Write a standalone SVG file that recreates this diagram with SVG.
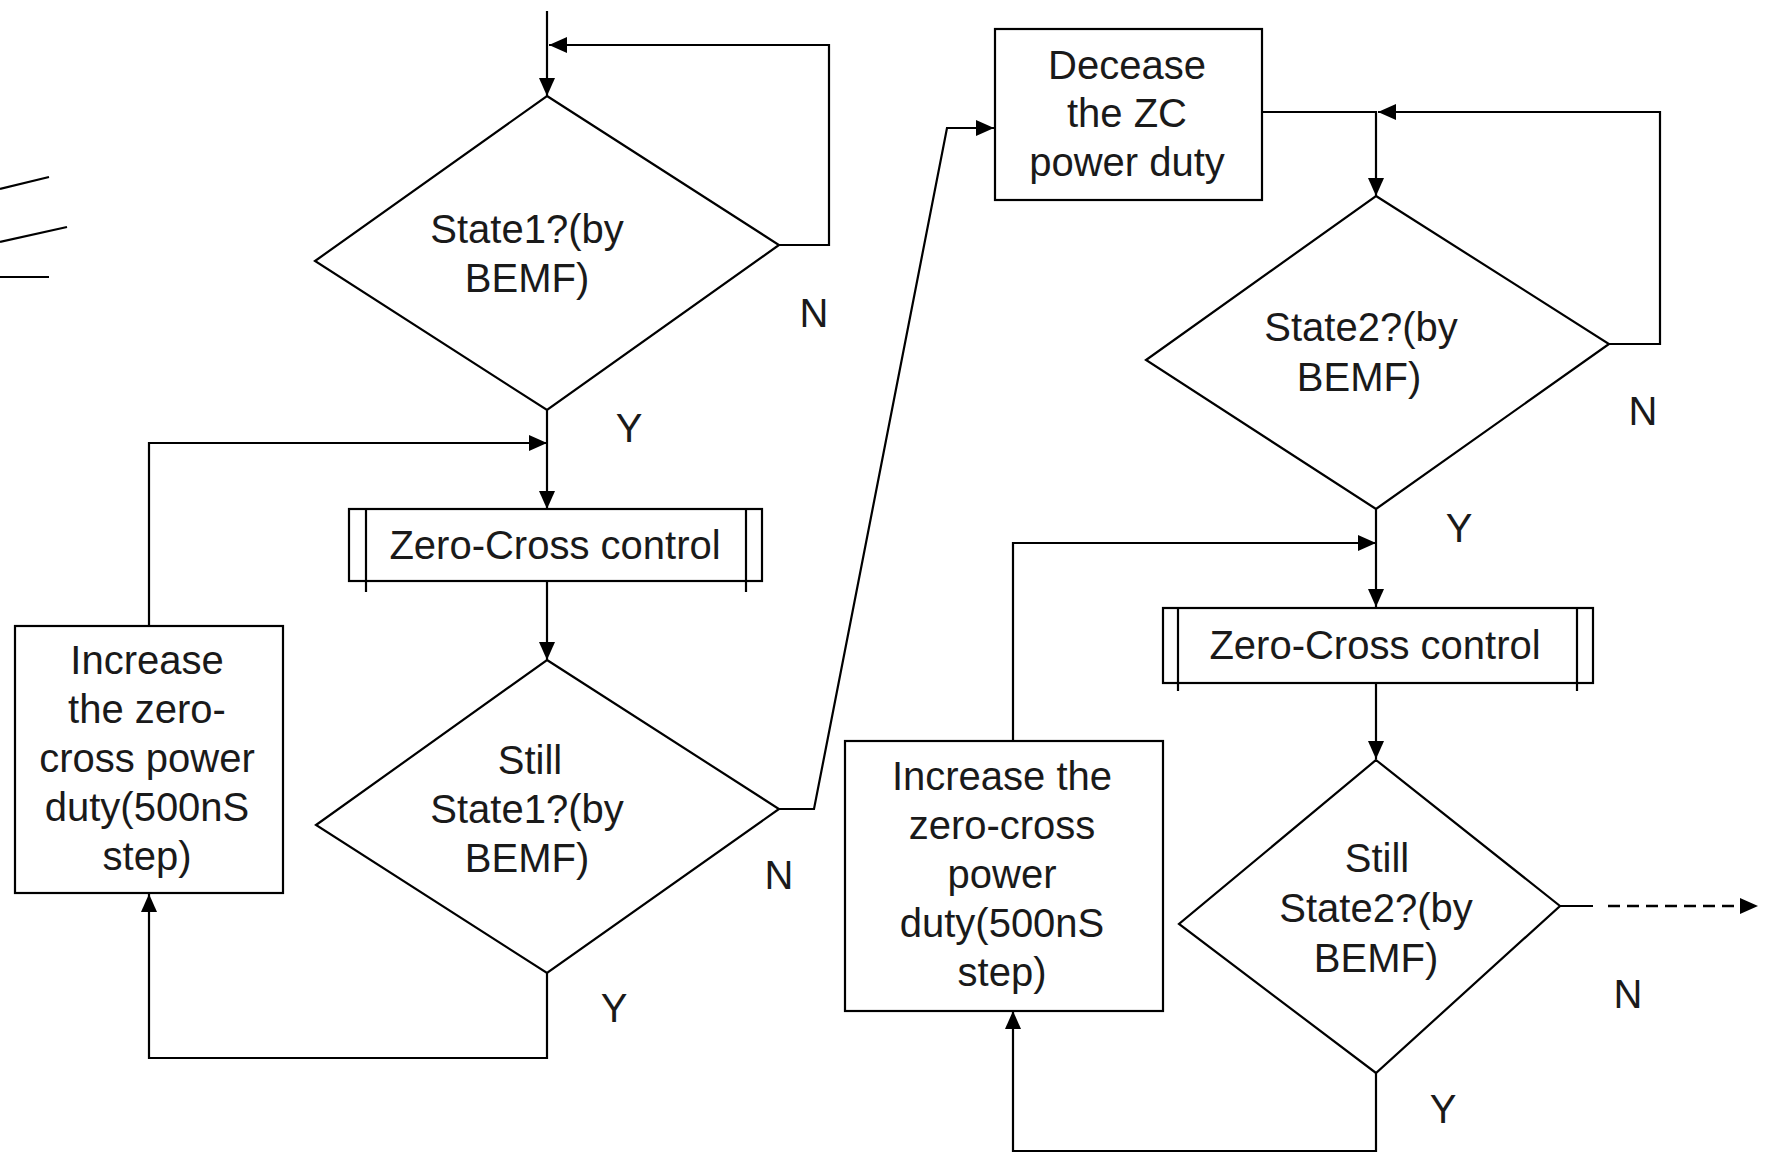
<svg xmlns="http://www.w3.org/2000/svg" width="1766" height="1156" viewBox="0 0 1766 1156">
<style>
.shape{fill:#fff;stroke:#000;stroke-width:2.2}
.ln{fill:none;stroke:#000;stroke-width:2.2}
.conn{fill:none;stroke:#000;stroke-width:2.2}
.dash{stroke-dasharray:12 7;stroke-width:2.6}
text{font-family:"Liberation Sans",Arial,sans-serif;font-size:40px;fill:#1a1a1a;text-anchor:middle}
</style>
<defs>
<marker id="arr" markerUnits="userSpaceOnUse" markerWidth="19" markerHeight="17" refX="18" refY="8" orient="auto">
<path d="M0,0 L18,8 L0,16 z" fill="#000"/>
</marker>
</defs>
<rect width="1766" height="1156" fill="#fff"/>
<g id="stray">
<line class="ln" x1="0" y1="189" x2="49" y2="177"/>
<line class="ln" x1="0" y1="242" x2="67" y2="227"/>
<line class="ln" x1="0" y1="277" x2="49" y2="277"/>
</g>
<g id="connectors">
<path class="conn" d="M547,11 V96" marker-end="url(#arr)"/>
<path class="conn" d="M779,245 H829 V45 H549" marker-end="url(#arr)"/>
<path class="conn" d="M547,410 V509" marker-end="url(#arr)"/>
<path class="conn" d="M149,626 V443 H547" marker-end="url(#arr)"/>
<path class="conn" d="M547,581 V660" marker-end="url(#arr)"/>
<path class="conn" d="M547,973 V1058 H149 V894" marker-end="url(#arr)"/>
<path class="conn" d="M779,809 H814 L947,128 H994" marker-end="url(#arr)"/>
<path class="conn" d="M1262,112 H1376 V196" marker-end="url(#arr)"/>
<path class="conn" d="M1609,344 H1660 V112 H1378" marker-end="url(#arr)"/>
<path class="conn" d="M1376,509 V607" marker-end="url(#arr)"/>
<path class="conn" d="M1013,741 V543 H1376" marker-end="url(#arr)"/>
<path class="conn" d="M1376,683 V759" marker-end="url(#arr)"/>
<path class="conn" d="M1376,1073 V1151 H1013 V1011" marker-end="url(#arr)"/>
<path class="conn" d="M1560,906 H1593"/>
<path class="conn dash" d="M1608,906 H1758" marker-end="url(#arr)"/>
<text x="814" y="327">N</text>
<text x="629" y="442">Y</text>
<text x="779" y="889">N</text>
<text x="614" y="1022">Y</text>
<text x="1643" y="425">N</text>
<text x="1459" y="542">Y</text>
<text x="1628" y="1008">N</text>
<text x="1443" y="1123">Y</text>
</g>
<g id="state1">
<polygon class="shape" points="547,96 779,245 547,410 315,261"/>
<text x="527" y="243">State1?(by</text>
<text x="527" y="292">BEMF)</text>
</g>
<g id="zc1">
<rect class="shape" x="349" y="509" width="413" height="72"/>
<line class="ln" x1="366" y1="509" x2="366" y2="592"/>
<line class="ln" x1="746" y1="509" x2="746" y2="592"/>
<text x="555" y="559">Zero-Cross control</text>
</g>
<g id="still1">
<polygon class="shape" points="547,660 779,809 547,973 316,825"/>
<text x="530" y="774">Still</text>
<text x="527" y="823">State1?(by</text>
<text x="527" y="872">BEMF)</text>
</g>
<g id="inc1">
<rect class="shape" x="15" y="626" width="268" height="267"/>
<text x="147" y="674">Increase</text>
<text x="147" y="723">the zero-</text>
<text x="147" y="772">cross power</text>
<text x="147" y="821">duty(500nS</text>
<text x="147" y="870">step)</text>
</g>
<g id="decease">
<rect class="shape" x="995" y="29" width="267" height="171"/>
<text x="1127" y="79">Decease</text>
<text x="1127" y="127">the ZC</text>
<text x="1127" y="176">power duty</text>
</g>
<g id="state2">
<polygon class="shape" points="1376,196 1609,344 1376,509 1146,360"/>
<text x="1361" y="341">State2?(by</text>
<text x="1359" y="391">BEMF)</text>
</g>
<g id="zc2">
<rect class="shape" x="1163" y="608" width="430" height="75"/>
<line class="ln" x1="1178" y1="608" x2="1178" y2="691"/>
<line class="ln" x1="1577" y1="608" x2="1577" y2="691"/>
<text x="1375" y="659">Zero-Cross control</text>
</g>
<g id="still2">
<polygon class="shape" points="1376,760 1560,906 1376,1073 1179,924"/>
<text x="1377" y="872">Still</text>
<text x="1376" y="922">State2?(by</text>
<text x="1376" y="972">BEMF)</text>
</g>
<g id="inc2">
<rect class="shape" x="845" y="741" width="318" height="270"/>
<text x="1002" y="790">Increase the</text>
<text x="1002" y="839">zero-cross</text>
<text x="1002" y="888">power</text>
<text x="1002" y="937">duty(500nS</text>
<text x="1002" y="986">step)</text>
</g>
</svg>
